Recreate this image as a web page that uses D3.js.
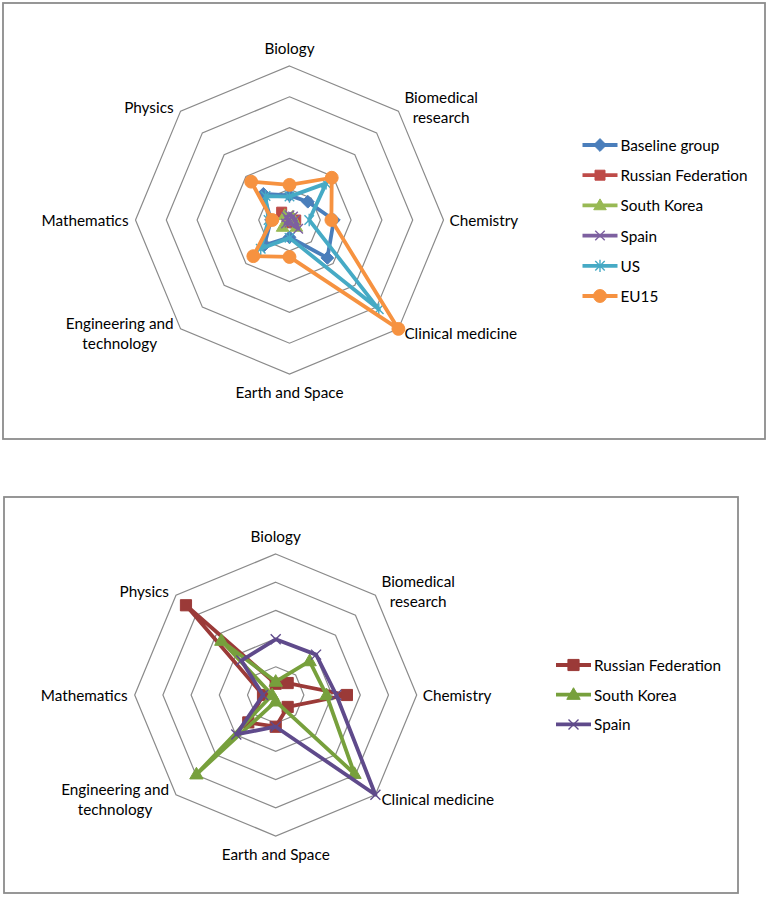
<!DOCTYPE html>
<html>
<head>
<meta charset="utf-8">
<script src="https://cdn.jsdelivr.net/npm/d3@7"></script>
<style>
  body { margin: 0; background: #fff; }
  text { font-family: Lato, "Open Sans", sans-serif; font-size: 15.3px; fill: #000; }
</style>
</head>
<body>
<script>
// categories, clockwise from the top
const categories = [
  'Biology',
  'Biomedical research',
  'Chemistry',
  'Clinical medicine',
  'Earth and Space',
  'Engineering and technology',
  'Mathematics',
  'Physics'
];
// how Excel wrapped the axis labels
const categoryLines = [
  ['Biology'],
  ['Biomedical', 'research'],
  ['Chemistry'],
  ['Clinical medicine'],
  ['Earth and Space'],
  ['Engineering and', 'technology'],
  ['Mathematics'],
  ['Physics']
];

// values (same units in both charts)
const baseline = [4.0, 4.2, 7.2, 8.7, 2.8, 5.8, 3.0, 6.0];
const russia = [0.16, 0.24, 1.01, 0.24, 0.45, 0.55, 0.18, 1.8];
const korea = [0.19, 0.68, 0.72, 1.58, 0.09, 1.59, 0.05, 1.09];
const spain = [0.79, 0.81, 0.86, 2.0, 0.45, 0.79, 0.18, 0.69];
const us = [3.8, 8.4, 3.2, 20.5, 2.9, 6.6, 3.4, 5.5];
const eu15 = [5.7, 9.7, 6.8, 25, 6.0, 8.3, 2.8, 8.8];

// ring values
const topTicks = [5, 10, 15, 20, 25];
const bottomTicks = [0.4, 0.8, 1.2, 1.6, 2.0];

const width = 768;
const height = 897;

const svg = d3
  .select('body')
  .append('svg')
  .attr('width', width)
  .attr('height', height);

/* custom markers, Excel style */
const markers = {
  diamond: {
    draw(ctx, s) {
      const r = Math.sqrt(s) / 1.4;
      ctx.moveTo(0, -r);
      ctx.lineTo(r, 0);
      ctx.lineTo(0, r);
      ctx.lineTo(-r, 0);
      ctx.closePath();
    }
  },
  square: d3.symbolSquare,
  triangle: {
    draw(ctx, s) {
      const a = Math.sqrt(s) * 1.5;
      const h = (a * Math.sqrt(3)) / 2;
      ctx.moveTo(0, -h * 0.6);
      ctx.lineTo(a / 2, h * 0.4);
      ctx.lineTo(-a / 2, h * 0.4);
      ctx.closePath();
    }
  },
  cross: {
    draw(ctx, s) {
      const r = Math.sqrt(s) / 2;
      ctx.moveTo(-r, -r);
      ctx.lineTo(r, r);
      ctx.moveTo(r, -r);
      ctx.lineTo(-r, r);
    }
  },
  star: {
    draw(ctx, s) {
      const r = Math.sqrt(s) / 2;
      ctx.moveTo(-r, -r);
      ctx.lineTo(r, r);
      ctx.moveTo(r, -r);
      ctx.lineTo(-r, r);
      ctx.moveTo(0, -r * 1.3);
      ctx.lineTo(0, r * 1.3);
    }
  },
  circle: d3.symbolCircle
};
const openMarkers = ['cross', 'star'];

function drawRadar(cfg) {
  const g = svg.append('g');

  // chart frame
  g.append('rect')
    .attr('x', cfg.frame[0])
    .attr('y', cfg.frame[1])
    .attr('width', cfg.frame[2])
    .attr('height', cfg.frame[3])
    .attr('fill', '#fff')
    .attr('stroke', '#8c8c8c')
    .attr('stroke-width', 1.8);

  const n = categories.length;
  const angle = i => (i * 2 * Math.PI) / n;
  const rScale = d3
    .scaleLinear()
    .domain([0, d3.max(cfg.ticks)])
    .range([0, cfg.radius]);

  const plot = g.append('g').attr('transform', `translate(${cfg.cx},${cfg.cy})`);

  // octagon grid
  const ring = d3
    .lineRadial()
    .angle((d, i) => angle(i))
    .radius(d => rScale(d))
    .curve(d3.curveLinearClosed);

  plot
    .selectAll('path.grid')
    .data(cfg.ticks)
    .enter()
    .append('path')
    .attr('class', 'grid')
    .attr('d', t => ring(categories.map(() => t)))
    .attr('fill', 'none')
    .attr('stroke', '#8a8a8a')
    .attr('stroke-width', 1.2);

  // category labels
  const rMax = rScale(d3.max(cfg.ticks));
  categoryLines.forEach((lines, i) => {
    const a = angle(i);
    const vx = rMax * Math.sin(a);
    const vy = -rMax * Math.cos(a);
    const lh = 20;
    const t = plot.append('text').attr('text-anchor', 'middle');
    lines.forEach((l, k) => {
      t.append('tspan').attr('x', 0).attr('y', k * lh).text(l);
    });
    const w = d3.max(t.selectAll('tspan').nodes(), nd => nd.getComputedTextLength());
    const h = lines.length * lh;
    let bx, by; // box centre
    const s = Math.sin(a);
    const c = Math.cos(a);
    if (s > 0.3) bx = vx + 6 + w / 2;
    else if (s < -0.3) bx = vx - 7 - w / 2;
    else bx = vx;
    if (c > 0.9) by = vy - 8 - h / 2;
    else if (c < -0.9) by = vy + 8 + h / 2;
    else if (c > 0.3) by = vy - 4;
    else if (c < -0.3) by = vy + 4;
    else by = vy;
    t.attr('transform', `translate(${bx},${by - h / 2 + lh / 2})`)
      .attr('dominant-baseline', 'central');
    t.selectAll('tspan').attr('dominant-baseline', 'central');
  });

  // series
  const line = d3
    .lineRadial()
    .angle((d, i) => angle(i))
    .radius(d => rScale(d))
    .curve(d3.curveLinearClosed);

  cfg.series.forEach(s => {
    const sg = plot.append('g');
    sg.append('path')
      .attr('d', line(s.values))
      .attr('fill', 'none')
      .attr('stroke', s.color)
      .attr('stroke-width', 3.8)
      .attr('stroke-linejoin', 'round');

    const open = openMarkers.includes(s.marker);
    sg.selectAll('path.mark')
      .data(s.values)
      .enter()
      .append('path')
      .attr('class', 'mark')
      .attr('transform', (d, i) => {
        const r = rScale(d);
        return `translate(${r * Math.sin(angle(i))},${-r * Math.cos(angle(i))})`;
      })
      .attr('d', d3.symbol().type(markers[s.marker]).size(s.size))
      .attr('fill', open ? 'none' : s.color)
      .attr('stroke', s.color)
      .attr('stroke-width', open ? 1.4 : 1);
  });

  // legend
  const lg = g.append('g');
  cfg.series.forEach((s, i) => {
    const y = cfg.legend.y + i * cfg.legend.step;
    lg.append('line')
      .attr('x1', cfg.legend.x)
      .attr('x2', cfg.legend.x + 35)
      .attr('y1', y)
      .attr('y2', y)
      .attr('stroke', s.color)
      .attr('stroke-width', 3.8);
    const open = openMarkers.includes(s.marker);
    lg.append('path')
      .attr('transform', `translate(${cfg.legend.x + 17.5},${y})`)
      .attr('d', d3.symbol().type(markers[s.marker]).size(s.size))
      .attr('fill', open ? 'none' : s.color)
      .attr('stroke', s.color)
      .attr('stroke-width', open ? 1.4 : 1);
    lg.append('text')
      .attr('x', cfg.legend.x + 38)
      .attr('y', y)
      .attr('dominant-baseline', 'central')
      .text(s.name);
  });
}

/* Top chart: all six series */
drawRadar({
  frame: [3, 3, 762, 436],
  cx: 289.5,
  cy: 220,
  radius: 154,
  ticks: topTicks,
  legend: { x: 582.5, y: 145, step: 30.2 },
  series: [
    { name: 'Baseline group', values: baseline, color: '#4a7ebb', marker: 'diamond', size: 80 },
    { name: 'Russian Federation', values: russia, color: '#be4b48', marker: 'square', size: 100 },
    { name: 'South Korea', values: korea, color: '#98b954', marker: 'triangle', size: 70 },
    { name: 'Spain', values: spain, color: '#7d60a0', marker: 'cross', size: 90 },
    { name: 'US', values: us, color: '#46aac5', marker: 'star', size: 90 },
    { name: 'EU15', values: eu15, color: '#f69240', marker: 'circle', size: 130 }
  ]
});

/* Bottom chart: the three small countries on their own scale */
drawRadar({
  frame: [4, 497, 734, 396],
  cx: 275.7,
  cy: 695,
  radius: 141,
  ticks: bottomTicks,
  legend: { x: 556, y: 665, step: 29.7 },
  series: [
    { name: 'Russian Federation', values: russia, color: '#9b3a38', marker: 'square', size: 125 },
    { name: 'South Korea', values: korea, color: '#77a03c', marker: 'triangle', size: 80 },
    { name: 'Spain', values: spain, color: '#5f4a8b', marker: 'cross', size: 100 }
  ]
});
</script>
</body>
</html>
